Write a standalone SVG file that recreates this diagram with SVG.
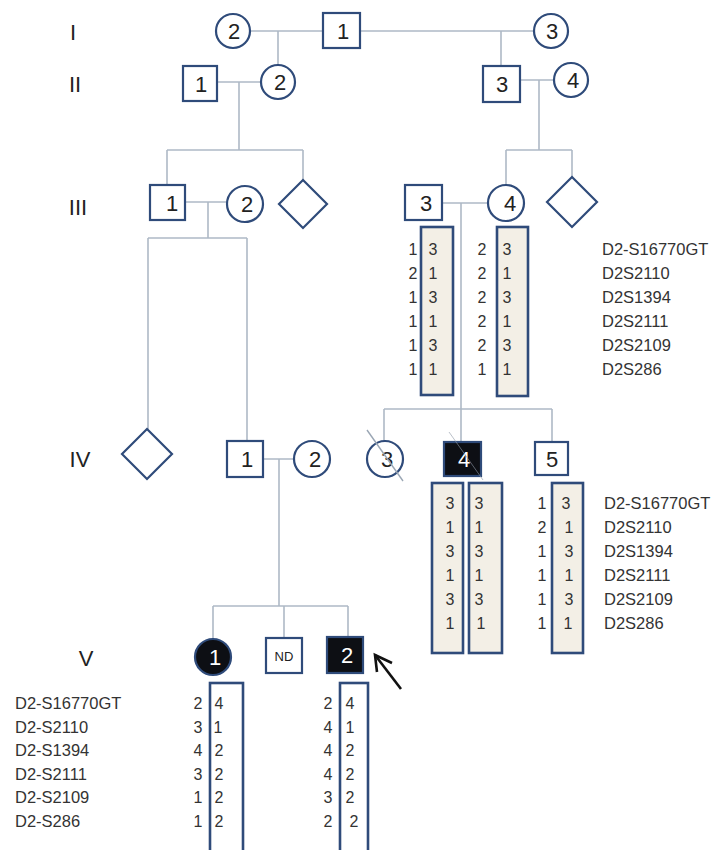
<svg xmlns="http://www.w3.org/2000/svg" width="718" height="850" viewBox="0 0 718 850">
<style>
.bg{fill:#ffffff}
.ln{stroke:#aeb9c6;stroke-width:1.6;fill:none}
.nd{fill:#ffffff;stroke:#2f4b7a;stroke-width:2.2}
.aff{fill:#0d0f14;stroke:#2f4b7a;stroke-width:2.2}
.box{fill:#f3efe6;stroke:#2f4b7a;stroke-width:2.6}
.boxw{fill:#ffffff;stroke:#2f4b7a;stroke-width:2.6}
.gen{font-family:"Liberation Sans",Arial,sans-serif;font-size:22px;fill:#222;text-anchor:middle}
.lab{font-family:"Liberation Sans",Arial,sans-serif;font-size:22px;fill:#222;text-anchor:middle}
.labw{font-family:"Liberation Sans",Arial,sans-serif;font-size:22px;fill:#ffffff;text-anchor:middle}
.hap{font-family:"Liberation Sans",Arial,sans-serif;font-size:16px;fill:#333;text-anchor:middle}
.mk{font-family:"Liberation Sans",Arial,sans-serif;font-size:16.5px;fill:#333}
</style>
<rect class="bg" x="0" y="0" width="718" height="850"/>

<g id="generations">
<text class="gen" x="73" y="40">I</text>
<text class="gen" x="75" y="92">II</text>
<text class="gen" x="78" y="215">III</text>
<text class="gen" x="80" y="467">IV</text>
<text class="gen" x="86" y="666">V</text>
</g>

<g id="connectors">
<path class="ln" d="M250,31H323 M360,31H534 M278,31V65 M501,31V66"/>
<path class="ln" d="M217,82H261 M239,82V150 M520,80H554 M539,80V150"/>
<path class="ln" d="M167,150H303 M167,150V185 M303,150V180 M506,150H572 M506,150V185 M572,150V177"/>
<path class="ln" d="M185,202H227 M208,202V238 M148,238H247 M148,238V429 M247,238V441"/>
<path class="ln" d="M442,203H488 M461,203V442 M384,409H552 M384,409V441 M552,409V442"/>
<path class="ln" d="M263,459H294 M279,459V606 M213,606H348 M213,606V639 M284,606V638 M348,606V637"/>
</g>

<g id="I-2"><circle class="nd" cx="233" cy="31" r="17"/><text class="lab" x="234" y="39">2</text></g>
<g id="I-1"><rect class="nd" x="323" y="13" width="37" height="35"/><text class="lab" x="343" y="39">1</text></g>
<g id="I-3"><circle class="nd" cx="551" cy="31" r="17"/><text class="lab" x="552" y="39">3</text></g>

<g id="II-1"><rect class="nd" x="183" y="66" width="34" height="35"/><text class="lab" x="201" y="92">1</text></g>
<g id="II-2"><circle class="nd" cx="278" cy="82" r="17"/><text class="lab" x="280" y="90">2</text></g>
<g id="II-3"><rect class="nd" x="483" y="66" width="37" height="36"/><text class="lab" x="502" y="92">3</text></g>
<g id="II-4"><circle class="nd" cx="571" cy="80" r="17"/><text class="lab" x="573" y="88">4</text></g>

<g id="III-1"><rect class="nd" x="150" y="185" width="35" height="35"/><text class="lab" x="172" y="211">1</text></g>
<g id="III-2"><circle class="nd" cx="245" cy="204" r="18"/><text class="lab" x="247" y="212">2</text></g>
<g id="III-d1"><polygon class="nd" points="303,180 327,204 303,228 279,204"/></g>
<g id="III-3"><rect class="nd" x="405" y="185" width="37" height="35"/><text class="lab" x="426" y="211">3</text></g>
<g id="III-4"><circle class="nd" cx="506" cy="203" r="18"/><text class="lab" x="510" y="211">4</text></g>
<g id="III-d2"><polygon class="nd" points="572,177 597,202 572,227 547,202"/></g>

<g id="III-3-hap">
<rect class="box" x="421" y="227" width="32" height="168"/>
<text class="hap" x="413" y="255">1</text><text class="hap" x="433" y="255">3</text>
<text class="hap" x="413" y="279">2</text><text class="hap" x="433" y="279">1</text>
<text class="hap" x="413" y="303">1</text><text class="hap" x="433" y="303">3</text>
<text class="hap" x="413" y="327">1</text><text class="hap" x="433" y="327">1</text>
<text class="hap" x="413" y="351">1</text><text class="hap" x="433" y="351">3</text>
<text class="hap" x="413" y="375">1</text><text class="hap" x="433" y="375">1</text>
</g>
<g id="III-4-hap">
<rect class="box" x="497" y="227" width="31" height="169"/>
<text class="hap" x="482" y="255">2</text><text class="hap" x="507" y="255">3</text>
<text class="hap" x="482" y="279">2</text><text class="hap" x="507" y="279">1</text>
<text class="hap" x="482" y="303">2</text><text class="hap" x="507" y="303">3</text>
<text class="hap" x="482" y="327">2</text><text class="hap" x="507" y="327">1</text>
<text class="hap" x="482" y="351">2</text><text class="hap" x="507" y="351">3</text>
<text class="hap" x="482" y="375">1</text><text class="hap" x="507" y="375">1</text>
</g>
<g id="III-markers">
<text class="mk" x="602" y="255">D2-S16770GT</text>
<text class="mk" x="602" y="279">D2S2110</text>
<text class="mk" x="602" y="303">D2S1394</text>
<text class="mk" x="602" y="327">D2S2111</text>
<text class="mk" x="602" y="351">D2S2109</text>
<text class="mk" x="602" y="375">D2S286</text>
</g>

<g id="IV-d"><polygon class="nd" points="147,429 172,454 147,479 122,454"/></g>
<g id="IV-1"><rect class="nd" x="227" y="441" width="36" height="36"/><text class="lab" x="247" y="467">1</text></g>
<g id="IV-2"><circle class="nd" cx="312" cy="459" r="18"/><text class="lab" x="315" y="467">2</text></g>
<g id="IV-3"><circle class="nd" cx="385" cy="459" r="18"/><text class="lab" x="387" y="467">3</text><line x1="367" y1="430" x2="403" y2="481" stroke="#9aa6b4" stroke-width="1.4"/></g>
<g id="IV-4"><rect class="aff" x="444" y="442" width="37" height="34"/><text class="labw" x="464" y="467">4</text><line x1="449" y1="432" x2="483" y2="480" stroke="#8f9aa8" stroke-width="1" opacity="0.6"/></g>
<g id="IV-5"><rect class="nd" x="535" y="442" width="33" height="33"/><text class="lab" x="552" y="467">5</text></g>

<g id="IV-4-hap">
<rect class="box" x="432" y="483" width="31" height="170"/>
<rect class="box" x="469" y="483" width="33" height="170"/>
<text class="hap" x="450" y="509">3</text><text class="hap" x="479" y="509">3</text>
<text class="hap" x="450" y="533">1</text><text class="hap" x="479" y="533">1</text>
<text class="hap" x="450" y="557">3</text><text class="hap" x="479" y="557">3</text>
<text class="hap" x="450" y="581">1</text><text class="hap" x="479" y="581">1</text>
<text class="hap" x="450" y="605">3</text><text class="hap" x="479" y="605">3</text>
<text class="hap" x="450" y="629">1</text><text class="hap" x="481" y="629">1</text>
</g>
<g id="IV-5-hap">
<rect class="box" x="552" y="483" width="31" height="170"/>
<text class="hap" x="542" y="509">1</text><text class="hap" x="566" y="509">3</text>
<text class="hap" x="542" y="533">2</text><text class="hap" x="569" y="533">1</text>
<text class="hap" x="542" y="557">1</text><text class="hap" x="569" y="557">3</text>
<text class="hap" x="542" y="581">1</text><text class="hap" x="569" y="581">1</text>
<text class="hap" x="542" y="605">1</text><text class="hap" x="569" y="605">3</text>
<text class="hap" x="542" y="629">1</text><text class="hap" x="568" y="629">1</text>
</g>
<g id="IV-markers">
<text class="mk" x="604" y="509">D2-S16770GT</text>
<text class="mk" x="604" y="533">D2S2110</text>
<text class="mk" x="604" y="557">D2S1394</text>
<text class="mk" x="604" y="581">D2S2111</text>
<text class="mk" x="604" y="605">D2S2109</text>
<text class="mk" x="604" y="629">D2S286</text>
</g>

<g id="V-1"><circle class="aff" cx="213" cy="657" r="18"/><text class="labw" x="215" y="665">1</text></g>
<g id="V-ND"><rect class="nd" x="266" y="638" width="36" height="35"/><text class="lab" x="284" y="661" style="font-size:13px">ND</text></g>
<g id="V-2"><rect class="aff" x="327" y="637" width="36" height="36"/><text class="labw" x="347" y="663">2</text></g>
<g id="proband-arrow">
<path d="M401,689L375,655" stroke="#111" stroke-width="2.6" fill="none"/>
<path d="M377,672L375,655L392,663" stroke="#111" stroke-width="2.6" fill="none"/>
</g>

<g id="V-1-hap">
<rect class="boxw" x="210" y="683" width="33" height="175"/>
<text class="hap" x="198" y="709">2</text><text class="hap" x="219" y="709">4</text>
<text class="hap" x="198" y="733">3</text><text class="hap" x="218" y="733">1</text>
<text class="hap" x="198" y="756">4</text><text class="hap" x="219" y="756">2</text>
<text class="hap" x="198" y="780">3</text><text class="hap" x="219" y="780">2</text>
<text class="hap" x="198" y="803">1</text><text class="hap" x="219" y="803">2</text>
<text class="hap" x="198" y="827">1</text><text class="hap" x="219" y="827">2</text>
</g>
<g id="V-2-hap">
<rect class="boxw" x="340" y="683" width="28" height="175"/>
<text class="hap" x="328" y="709">2</text><text class="hap" x="350" y="709">4</text>
<text class="hap" x="328" y="733">4</text><text class="hap" x="350" y="733">1</text>
<text class="hap" x="328" y="756">4</text><text class="hap" x="350" y="756">2</text>
<text class="hap" x="328" y="780">4</text><text class="hap" x="350" y="780">2</text>
<text class="hap" x="328" y="803">3</text><text class="hap" x="350" y="803">2</text>
<text class="hap" x="328" y="827">2</text><text class="hap" x="354" y="827">2</text>
</g>
<g id="V-markers">
<text class="mk" x="15" y="709">D2-S16770GT</text>
<text class="mk" x="15" y="733">D2-S2110</text>
<text class="mk" x="15" y="756">D2-S1394</text>
<text class="mk" x="15" y="780">D2-S2111</text>
<text class="mk" x="15" y="803">D2-S2109</text>
<text class="mk" x="15" y="827">D2-S286</text>
</g>
</svg>
